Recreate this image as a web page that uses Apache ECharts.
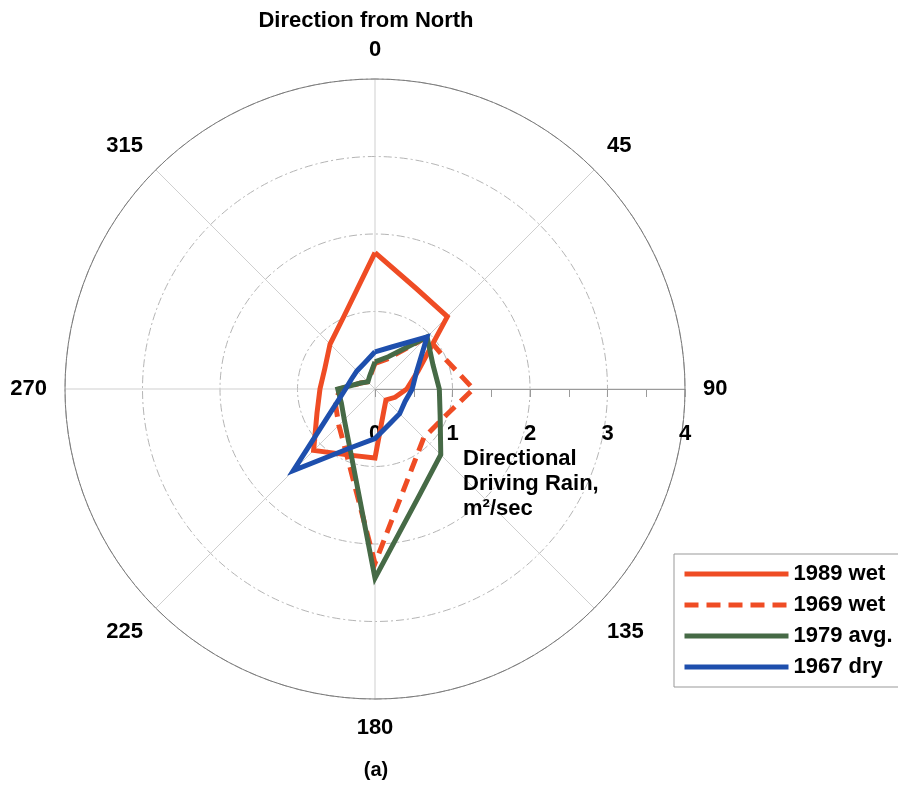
<!DOCTYPE html>
<html>
<head>
<meta charset="utf-8">
<script src="https://cdn.jsdelivr.net/npm/echarts@6/dist/echarts.min.js"></script>
<style>
html, body { margin: 0; padding: 0; background: #fff; }
#main { width: 898px; height: 785px; }
</style>
</head>
<body>
<div id="main"></div>
<script>
// compass directions of the data points (degrees from north, clockwise)
var directions = [0, 22.5, 45, 67.5, 90, 112.5, 135, 157.5, 180, 202.5, 225, 247.5, 270, 292.5, 315, 337.5];
var dirLabels = ['0', '45', '90', '135', '180', '225', '270', '315'];
var radiusTicks = [0, 1, 2, 3, 4];

// directional driving rain, m2/sec
var wet1989 = [1.76, 1.40, 1.32, 0.60, 0.41, 0.28, 0.20, 0.30, 0.89, 0.92, 1.12, 0.81, 0.71, 0.70, 0.82, 1.03];
var wet1969 = [0.33, 0.42, 0.95, 0.99, 1.27, 0.96, 0.89, 1.18, 2.25, 0.94, 0.66, 0.55, 0.46, 0.20, 0.13, 0.17];
var avg1979 = [0.35, 0.45, 0.95, 0.81, 0.83, 0.91, 1.20, 1.49, 2.44, 0.84, 0.56, 0.47, 0.48, 0.20, 0.13, 0.18];
var dry1967 = [0.48, 0.59, 0.95, 0.58, 0.48, 0.42, 0.45, 0.49, 0.64, 0.82, 1.49, 0.56, 0.38, 0.33, 0.33, 0.36];

var font = 'Liberation Sans, Arial, sans-serif';

// radius axis sits on the start angle, so the axis starts at east (90 from north)
function toAxis(c) {
    return (c + 270) % 360;
}

function closedRing(values) {
    var pts = [];
    for (var i = 0; i < values.length; i++) {
        pts.push([values[i], toAxis(directions[i])]);
    }
    pts.push([values[0], toAxis(directions[0])]);
    return pts;
}

function makeSeries(name, values, color, type) {
    return {
        name: name,
        type: 'line',
        coordinateSystem: 'polar',
        symbol: 'none',
        data: closedRing(values),
        itemStyle: { color: color },
        lineStyle: { color: color, width: 5, type: type || 'solid', cap: 'butt', join: 'miter' }
    };
}

var myChart = echarts.init(document.getElementById('main'));

var option = {
    animation: false,
    backgroundColor: '#fff',
    title: [{
        text: 'Direction from North',
        left: 366,
        top: 10,
        padding: 0,
        textAlign: 'center',
        textStyle: { fontSize: 22, fontWeight: 'bold', color: '#000', fontFamily: font }
    }, {
        text: '(a)',
        left: 376,
        top: 760,
        padding: 0,
        textAlign: 'center',
        textStyle: { fontSize: 20, fontWeight: 'bold', color: '#000', fontFamily: font }
    }, {
        text: 'Directional\nDriving Rain,\nm\u00b2/sec',
        left: 463,
        top: 446,
        padding: 0,
        textStyle: { fontSize: 22, fontWeight: 'bold', color: '#000', fontFamily: font, lineHeight: 25 }
    }],
    legend: {
        orient: 'vertical',
        left: 674,
        top: 554,
        padding: [9, 10, 9, 8],
        itemWidth: 104,
        itemHeight: 14,
        itemGap: 9,
        borderColor: '#999',
        borderWidth: 1,
        itemStyle: { opacity: 0 },
        lineStyle: { width: 5 },
        textStyle: { fontSize: 22, fontWeight: 'bold', color: '#000', fontFamily: font }
    },
    polar: {
        center: [375, 389],
        radius: 310
    },
    angleAxis: {
        type: 'value',
        min: 0,
        max: 360,
        interval: 45,
        startAngle: 0,
        clockwise: true,
        axisLine: { lineStyle: { color: '#7a7a7a', width: 1 } },
        axisTick: { show: false },
        axisLabel: {
            margin: 18,
            fontSize: 22,
            fontWeight: 'bold',
            color: '#000',
            fontFamily: font,
            formatter: function (v) {
                if (v >= 360) return '';
                return dirLabels[((v + 90) % 360) / 45];
            }
        },
        splitLine: { lineStyle: { color: '#cfcfcf', width: 1 } }
    },
    radiusAxis: {
        type: 'value',
        min: 0,
        max: 4,
        interval: 1,
        axisLine: { lineStyle: { color: '#9a9a9a', width: 1 } },
        axisTick: { show: true, length: -8, lineStyle: { color: '#9a9a9a' } },
        minorTick: { show: true, splitNumber: 2, length: -8, lineStyle: { color: '#9a9a9a' } },
        axisLabel: {
            margin: -56,
            fontSize: 22,
            fontWeight: 'bold',
            color: '#000',
            fontFamily: font,
            formatter: function (v) {
                return String(radiusTicks[Math.round(v)]);
            }
        },
        splitLine: { lineStyle: { color: '#b5b5b5', width: 1, type: [8, 3, 2, 3] } }
    },
    series: [
        makeSeries('1989 wet', wet1989, '#EF4C24'),
        makeSeries('1969 wet', wet1969, '#EF4C24', [14, 8]),
        makeSeries('1979 avg.', avg1979, '#466A46'),
        makeSeries('1967 dry', dry1967, '#1E4FAD')
    ]
};

myChart.setOption(option);
</script>
</body>
</html>
